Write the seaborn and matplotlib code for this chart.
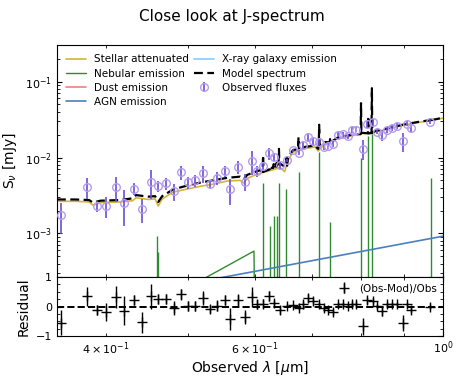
import numpy as np
import matplotlib
matplotlib.use('Agg')
import matplotlib.pyplot as plt
import seaborn as sns

# Continuo estelar atenuado (nodos), en um y mJy
stellar_wl = [0.350, 0.368, 0.382, 0.386, 0.394, 0.415, 0.430, 0.434, 0.449, 0.457,
              0.461, 0.466, 0.480, 0.496, 0.518, 0.535, 0.556, 0.576, 0.582, 0.587,
              0.598, 0.608, 0.630, 0.642, 0.650, 0.656, 0.665, 0.687, 0.706, 0.712,
              0.726, 0.752, 0.787, 0.802, 0.831, 0.861, 0.902, 0.944, 1.000]
stellar_flux = [2.65e-3, 2.65e-3, 2.6e-3, 2.35e-3, 2.55e-3, 2.6e-3, 2.7e-3, 2.95e-3, 2.8e-3, 2.85e-3,
                2.3e-3, 2.85e-3, 3.5e-3, 3.8e-3, 4.2e-3, 4.45e-3, 4.9e-3, 5.0e-3, 4.6e-3, 5.3e-3,
                5.8e-3, 6.2e-3, 6.9e-3, 7.4e-3, 6.5e-3, 9.2e-3, 11.8e-3, 13.1e-3, 13.8e-3, 12.2e-3,
                15.3e-3, 17.8e-3, 19.7e-3, 20.6e-3, 21.7e-3, 23.8e-3, 27.0e-3, 29.5e-3, 33.0e-3]

# Continuo del espectro modelo (mismos nodos)
model_flux = [2.8e-3, 2.8e-3, 2.75e-3, 2.55e-3, 2.7e-3, 2.75e-3, 2.9e-3, 3.2e-3, 3.05e-3, 3.1e-3,
              2.6e-3, 3.1e-3, 3.8e-3, 4.2e-3, 4.7e-3, 5.0e-3, 5.4e-3, 5.6e-3, 5.2e-3, 5.9e-3,
              6.4e-3, 6.8e-3, 7.6e-3, 8.3e-3, 7.6e-3, 10.0e-3, 12.6e-3, 13.8e-3, 14.4e-3, 13.0e-3,
              16.0e-3, 18.5e-3, 20.3e-3, 21.2e-3, 22.3e-3, 24.3e-3, 27.5e-3, 30.0e-3, 33.5e-3]

# Lineas de emision en el espectro modelo
model_line_wl = [0.613, 0.625, 0.631, 0.636, 0.640, 0.6535, 0.675, 0.714, 0.7355, 0.800, 0.816, 0.824, 0.967]
model_line_peak = [1.07e-2, 7.5e-3, 8.2e-3, 8.5e-3, 1.3e-2, 1.0e-2, 1.86e-2, 2.7e-2, 1.75e-2, 5.2e-2, 3.5e-2, 8.2e-2, 3.4e-2]
model_line_base = [6.5e-3, 7.0e-3, 7.3e-3, 7.6e-3, 8.0e-3, 7.8e-3, 12.8e-3, 14.5e-3, 15.8e-3, 20.3e-3, 20.8e-3, 21.0e-3, 31.0e-3]

# Emision nebular: lineas y continuo
neb_line_wl = [0.460, 0.4612, 0.613, 0.625, 0.631, 0.636, 0.640, 0.653, 0.675, 0.714, 0.7355, 0.800, 0.816, 0.824, 0.967]
neb_line_peak = [9.2e-4, 5.7e-4, 4.6e-3, 1.25e-3, 1.7e-3, 1.7e-3, 4.6e-3, 3.9e-3, 6.4e-3, 1.2e-2, 1.4e-3, 1.0e-2, 1.95e-2, 2.05e-2, 5.3e-3]
neb_cont_wl = [0.350, 0.526, 0.598, 0.599, 1.000]
neb_cont_flux = [2.2e-5, 2.66e-4, 5.85e-4, 1.0e-4, 1.5e-4]

# Emision AGN
agn_wl = [0.350, 1.000]
agn_flux = [1.03e-4, 9.2e-4]

# Flujos observados
obs_wl = [0.354, 0.380, 0.390, 0.400, 0.411, 0.420, 0.432, 0.441, 0.452, 0.461,
          0.471, 0.481, 0.491, 0.500, 0.510, 0.521, 0.531, 0.541, 0.553, 0.561,
          0.572, 0.584, 0.594, 0.603, 0.613, 0.623, 0.631, 0.642, 0.654, 0.665,
          0.675, 0.684, 0.693, 0.703, 0.714, 0.724, 0.732, 0.742, 0.752, 0.761,
          0.772, 0.780, 0.789, 0.805, 0.814, 0.826, 0.836, 0.846, 0.858, 0.870,
          0.882, 0.896, 0.906, 0.916, 0.965]
obs_flux = [1.74e-3, 4.1e-3, 2.3e-3, 2.3e-3, 4.1e-3, 2.5e-3, 3.9e-3, 2.1e-3, 4.8e-3, 4.2e-3,
            4.55e-3, 3.6e-3, 6.35e-3, 4.7e-3, 5.0e-3, 6.2e-3, 4.45e-3, 5.4e-3, 6.6e-3, 3.8e-3,
            7.5e-3, 4.8e-3, 9.0e-3, 6.6e-3, 7.7e-3, 1.13e-2, 1.02e-2, 7.9e-3, 9.2e-3, 1.25e-2,
            1.15e-2, 1.45e-2, 1.85e-2, 1.64e-2, 1.61e-2, 1.38e-2, 1.42e-2, 1.53e-2, 2.0e-2, 2.03e-2,
            1.9e-2, 2.33e-2, 2.33e-2, 1.31e-2, 2.75e-2, 2.95e-2, 2.2e-2, 1.96e-2, 2.3e-2, 2.45e-2,
            2.6e-2, 1.64e-2, 2.8e-2, 2.45e-2, 2.95e-2]
obs_err = [7.5e-4, 1.3e-3, 3.9e-4, 7.1e-4, 1.5e-3, 1.25e-3, 6.6e-4, 7.4e-4, 2.0e-3, 7.1e-4,
           7.7e-4, 9.0e-4, 1.27e-3, 8.0e-4, 8.5e-4, 1.55e-3, 6.2e-4, 1.0e-3, 1.1e-3, 1.4e-3,
           1.5e-3, 1.2e-3, 3.1e-3, 1.1e-3, 1.15e-3, 1.9e-3, 1.2e-3, 1.1e-3, 4.6e-4, 6.0e-4,
           6.0e-4, 1.45e-3, 2.4e-3, 1.6e-3, 1.3e-3, 1.4e-3, 1.4e-3, 1.5e-3, 1.6e-3, 1.4e-3,
           1.3e-3, 2.3e-3, 1.9e-3, 3.7e-3, 3.0e-3, 3.2e-3, 1.8e-3, 3.3e-3, 1.8e-3, 2.0e-3,
           2.1e-3, 4.6e-3, 2.0e-3, 2.7e-3, 2.1e-3]

# Residuos (Obs-Mod)/Obs
resid = [-0.55, 0.35, -0.10, -0.18, 0.33, -0.14, 0.21, -0.53, 0.35, 0.26,
         0.24, -0.05, 0.41, 0.03, 0.03, 0.29, -0.08, 0.03, 0.21, -0.42,
         0.21, -0.35, 0.33, 0.07, 0.10, 0.37, 0.12, -0.12, 0.03, 0.04,
         -0.05, 0.10, 0.29, 0.18, 0.07, -0.05, -0.10, -0.19, 0.07, 0.07,
         0.01, 0.10, 0.10, -0.67, 0.21, 0.18, 0.01, -0.14, 0.07, 0.07,
         0.07, -0.55, 0.07, -0.10, 0.0]

c_stellar = '#d6b43c'
c_neb = '#2e8b2e'
c_dust = '#f08080'
c_agn = '#4a80bd'
c_xray = '#87cefa'

def main():
    sns.set_style('ticks')
    plt.rcParams['font.family'] = ['DejaVu Sans']
    plt.rcParams.update({'xtick.direction': 'in', 'ytick.direction': 'in',
                         'xtick.top': True, 'ytick.right': True,
                         'xtick.labelsize': 8, 'ytick.labelsize': 8,
                         'axes.edgecolor': 'black', 'text.color': 'black',
                         'axes.labelcolor': 'black', 'xtick.color': 'black',
                         'ytick.color': 'black', 'xtick.major.pad': 2.5})

    # Espectro modelo con las lineas insertadas como picos
    dw = 0.0008
    pts = list(zip(stellar_wl, model_flux))
    for wl, pk, base in zip(model_line_wl, model_line_peak, model_line_base):
        pts += [(wl - dw, base), (wl, pk), (wl + dw, base)]
    pts.sort()
    mod_wl = [p[0] for p in pts]
    mod_fl = [p[1] for p in pts]

    fig = plt.figure(figsize=(4.63, 3.78), dpi=100)
    ax1 = fig.add_axes([0.123, 0.267, 0.834, 0.614])
    ax2 = fig.add_axes([0.123, 0.111, 0.834, 0.156], sharex=ax1)

    sns.lineplot(x=stellar_wl, y=stellar_flux, ax=ax1, color=c_stellar, lw=1.2,
                 sort=False, estimator=None, label='Stellar attenuated')
    sns.lineplot(x=neb_cont_wl, y=neb_cont_flux, ax=ax1, color=c_neb, lw=1.0,
                 sort=False, estimator=None, label='Nebular emission')
    ax1.vlines(neb_line_wl, 1e-6, neb_line_peak, color=c_neb, lw=1.0)
    ax1.plot([], [], color=c_dust, lw=1.2, label='Dust emission')
    sns.lineplot(x=agn_wl, y=agn_flux, ax=ax1, color=c_agn, lw=1.2,
                 sort=False, estimator=None, label='AGN emission')
    ax1.plot([], [], color=c_xray, lw=1.2, label='X-ray galaxy emission')
    ax1.plot(mod_wl, mod_fl, color='black', lw=1.6, ls=(0, (4, 2)), label='Model spectrum')
    ax1.errorbar(obs_wl, obs_flux, yerr=obs_err, fmt='o', mfc='none', mec='#b49af2',
                 ecolor='#6a4fd6', ms=5.5, mew=1.0, elinewidth=1.2, label='Observed fluxes', zorder=5)

    ax1.set_xscale('log')
    ax1.set_yscale('log')
    ax1.set_xlim(0.35, 1.0)
    ax1.set_ylim(2.66e-4, 0.304)
    ax1.set_ylabel(r'S$_\nu$ [mJy]', fontsize=10)
    ax1.tick_params(axis='x', which='both', labelbottom=False)
    ax1.legend(loc='upper left', ncol=2, frameon=False, fontsize=7.5,
               columnspacing=0.5, handlelength=1.9, handletextpad=0.75,
               labelspacing=0.4)

    resid_err = [e / f for e, f in zip(obs_err, obs_flux)]
    ax2.errorbar(obs_wl, resid, yerr=resid_err, fmt='+', color='black', ms=6.5, mew=1.0,
                 elinewidth=1.0, label='(Obs-Mod)/Obs')
    ax2.axhline(0, color='black', ls='--', lw=1.4)
    ax2.set_ylim(-1, 1)
    ax2.set_yticks([-1, 0, 1])
    ax2.yaxis.set_minor_locator(matplotlib.ticker.AutoMinorLocator(4))
    ax2.set_xlabel(r'Observed $\lambda$ [$\mu$m]', fontsize=10, labelpad=1)
    ax2.set_ylabel('Residual', fontsize=10)
    ax2.legend(loc='upper right', frameon=False, fontsize=7.5, handletextpad=0.4,
               borderaxespad=0.2)

    fig.suptitle('Close look at J-spectrum', fontsize=11, y=0.975)
    fig.savefig('out.png', dpi=100)
    plt.close(fig)

if __name__ == "__main__":
    main()
